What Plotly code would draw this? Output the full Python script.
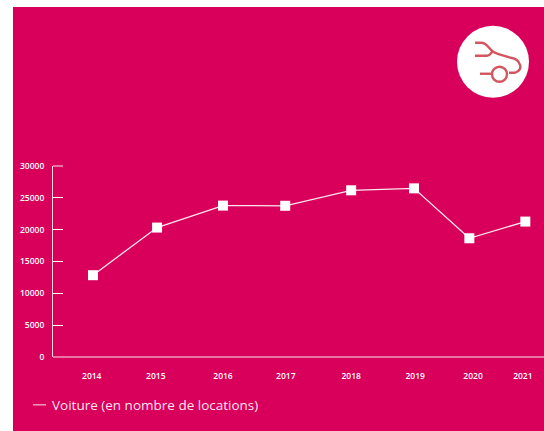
import plotly.graph_objects as go

W, H = 544, 431
series_name = "Voiture (en nombre de locations)"
year_positions = [2014.0, 2015.03, 2016.09, 2017.09, 2018.15, 2019.16, 2020.05, 2020.95]
values = [12850, 20330, 23780, 23750, 26180, 26490, 18650, 21270]
tick_positions = [2013.98, 2015.01, 2016.09, 2017.10, 2018.15, 2019.18, 2020.11, 2020.91]
tick_labels = ["2014", "2015", "2016", "2017", "2018", "2019", "2020", "2021"]
y_ticks = [0, 5000, 10000, 15000, 20000, 25000, 30000]

PINK = "#D9005B"
ICON = "#D2555F"
FONT = "Open Sans"
L, R, T, B = 53, 544, 165.5, 357


def px(x):
    return (x - L) / (R - L)


def py(y):
    return (B - y) / (B - T)


def path(pts):
    """Icon outline: pixel points converted to paper coordinates."""
    cmd = pts.split()
    out, i = [], 0
    while i < len(cmd):
        c = cmd[i]
        if c.isalpha():
            out.append(c)
            i += 1
        else:
            out.append(f"{px(float(c)):.5f},{py(float(cmd[i + 1])):.5f}")
            i += 2
    return " ".join(out)


fig = go.Figure()
fig.add_trace(go.Scatter(
    x=year_positions, y=values, mode="lines+markers", showlegend=False, name=series_name,
    line=dict(color="rgba(255,255,255,0.9)", width=1.3),
    marker=dict(symbol="square", size=10, color="white"),
    cliponaxis=False,
))

icon_line = dict(color=ICON, width=2.4)
shapes = [
    dict(type="rect", xref="paper", yref="paper", x0=px(13), x1=px(560), y0=py(6), y1=py(445),
         fillcolor=PINK, line_width=0, layer="below"),
    dict(type="circle", xref="paper", yref="paper", x0=px(457), x1=px(529), y0=py(25), y1=py(97),
         fillcolor="white", line_width=0, layer="below"),
    dict(type="path", xref="paper", yref="paper", line=icon_line, layer="below",
         path=path("M 475 42 L 481 42 C 486 42 488 46 491 49 C 494 52 497 53 501 54 "
                   "L 511 57 C 517 58 519 61 520 64 C 521 67 520 70 515 72 L 509 72")),
    dict(type="path", xref="paper", yref="paper", line=icon_line, layer="below",
         path=path("M 475 55 L 487 55 C 490 55 491 52 493 50")),
    dict(type="path", xref="paper", yref="paper", line=icon_line, layer="below",
         path=path("M 480 73 L 491 73")),
    dict(type="circle", xref="paper", yref="paper", x0=px(492), x1=px(507), y0=py(66), y1=py(81),
         line=icon_line, layer="below"),
    dict(type="line", xref="paper", yref="paper", x0=0, x1=1, y0=0, y1=0,
         line=dict(color="rgba(255,255,255,0.9)", width=1.2)),
    dict(type="line", xref="paper", yref="paper", x0=0, x1=px(63), y0=1, y1=1,
         line=dict(color="rgba(255,255,255,0.9)", width=1)),
    dict(type="line", xref="paper", yref="paper", x0=px(33), x1=px(46), y0=py(405), y1=py(405),
         line=dict(color="rgba(255,255,255,0.9)", width=1)),
]

fig.update_layout(
    width=W, height=H, autosize=False,
    margin=dict(l=L, r=W - R, t=T, b=H - B, pad=0),
    paper_bgcolor="white", plot_bgcolor=PINK,
    font=dict(family=FONT, color="white"),
    shapes=shapes,
    showlegend=False,
    annotations=[dict(text=series_name, xref="paper", yref="paper", x=px(50), y=py(405.5),
                      xanchor="left", yanchor="middle", showarrow=False,
                      font=dict(size=13.5, color="rgba(255,255,255,0.92)"))],
    xaxis=dict(range=[2013.357, 2021.25], tickmode="array", tickvals=tick_positions, ticktext=tick_labels,
               showgrid=False, zeroline=False, showline=False, ticks="", ticklen=0,
               tickfont=dict(size=8.5, color="white", weight=600), ticklabelstandoff=12),
    yaxis=dict(range=[0, 30000], tickmode="array", tickvals=y_ticks, ticktext=[str(v) for v in y_ticks],
               showgrid=False, zeroline=False, showline=True, linecolor="rgba(255,255,255,0.85)", linewidth=1,
               ticks="inside", ticklen=10, tickcolor="white", tickwidth=1,
               tickfont=dict(size=8.5, color="white", weight=600), ticklabelstandoff=6),
)
fig.write_html("out.html", post_script="document.body.style.margin='0';",
               config={"displayModeBar": False})
